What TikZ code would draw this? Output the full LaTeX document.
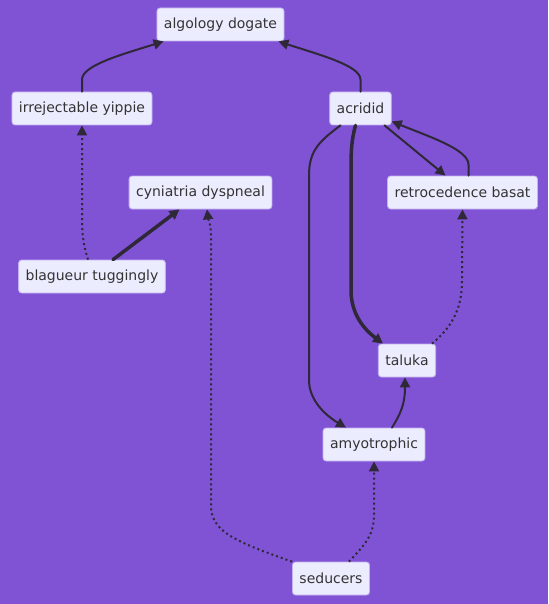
\documentclass[tikz,border=0pt]{standalone}
\usepackage{fontspec}
\setmainfont{DejaVu Sans}
\usetikzlibrary{arrows.meta,calc,positioning}
\definecolor{mmBack}{HTML}{8053D5}
\definecolor{mmFill}{HTML}{ECECFF}
\definecolor{mmEdge}{HTML}{C2B0F0}
\definecolor{mmInk}{HTML}{333333}
\definecolor{mmLine}{HTML}{2E2838}

\begin{document}
\begin{tikzpicture}[x=1pt,y=-1pt,>={Triangle[length=10pt,width=10pt]},line cap=round,line join=round]
\path[fill=mmBack] (0,0) rectangle (548,604);
\tikzset{box/.style={draw=mmEdge,fill=mmFill,line width=0.8pt,rounded corners=3pt,minimum height=33pt,inner xsep=7pt,text=mmInk,font=\fontsize{14}{16}\selectfont},
  link/.style={draw=mmLine,line width=2pt,->},thick link/.style={draw=mmLine,line width=3.5pt,->},
  dots/.style={draw=mmLine,line width=2pt,dash pattern=on 2pt off 3pt,->,line cap=butt}}
% nodes
\node[box] (alg) at (220.5,24.5) {algology dogate};
\node[box] (irr) at (82,108.5) {irrejectable yippie};
\node[box] (acr) at (360.5,108.5) {acridid};
\node[box] (cyn) at (200.5,192.5) {cyniatria dyspneal};
\node[box] (ret) at (462.5,192.5) {retrocedence basat};
\node[box] (blg) at (92,276.5) {blagueur tuggingly};
\node[box] (tal) at (407,360.5) {taluka};
\node[box] (amy) at (374,444.5) {amyotrophic};
\node[box] (sed) at (331,578.5) {seducers};
% edges
\draw[link] (irr.north) -- ++(0,-12) .. controls +(0,-14) and (120,55) .. ([xshift=7pt]alg.south west);
\draw[link] (acr.north) -- ++(0,-12) .. controls +(0,-14) and (320,55) .. ([xshift=-6pt]alg.south east);
\draw[dots] ([xshift=-4pt]blg.north) .. controls +(-6,-20) and (82,230) .. (82,215) -- (irr.south);
\draw[thick link] ([xshift=21pt]blg.north) -- ([xshift=-21pt]cyn.south);
\draw[dots] (sed.north west) .. controls (230,540) and (211,530) .. (211,505) -- (211,235) .. controls (211,225) and (208,218) .. (cyn.south -| 207,0);
\draw[dots] ([xshift=18pt]sed.north) .. controls +(16,-17) and (374,535) .. (374,515) -- (amy.south);
\draw[thick link] ([xshift=-5pt]acr.south) .. controls +(-4,15) and (351,150) .. (351,170) -- (351,290) .. controls (351,315) and (365,330) .. ([xshift=-24pt]tal.north);
\draw[link] ([xshift=24pt]acr.south) -- ([xshift=-17pt]ret.north);
\draw[link] ([xshift=6pt]ret.north) -- ++(0,-11) .. controls +(0,-15) and (430,137) .. ([yshift=4pt]acr.south east);
\draw[link] ([xshift=-20pt]acr.south) .. controls +(-20,15) and (309,150) .. (309,175) -- (309,380) .. controls (309,400) and (325,415) .. ([xshift=-28pt]amy.north);
\draw[link] ([xshift=18pt]amy.north) .. controls +(8,-13) and (405,405) .. ([xshift=-2pt]tal.south);
\draw[dots] ([xshift=25pt]tal.north) .. controls +(23,-19) and (462,305) .. (462,280) -- (ret.south);
\end{tikzpicture}
\end{document}
